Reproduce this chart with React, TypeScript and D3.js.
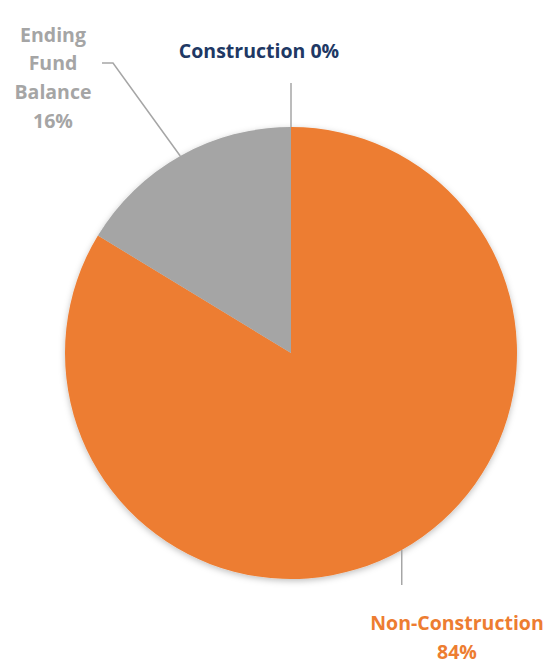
import React from "react";
import * as d3 from "d3";

const categories = ["Construction", "Non-Construction", "Ending Fund Balance"];
const values = [0, 83.7, 16.3];
const percentLabels = ["0%", "84%", "16%"];
const colors = ["#203864", "#ED7D31", "#A5A5A5"];

const W = 555;
const H = 664;
const cx = 291;
const cy = 353;
const R = 226;

export default function App() {
  const pie = d3.pie<number>().sort(null).value((d) => d);
  const arcs = pie(values);
  const arcGen = d3.arc<d3.PieArcDatum<number>>().innerRadius(0).outerRadius(R);
  const pt = (a: number, r: number) => [Math.sin(a) * r, -Math.cos(a) * r];
  const mid = (d: d3.PieArcDatum<number>) => (d.startAngle + d.endAngle) / 2;

  const cMid = pt(mid(arcs[0]), R);
  const nMid = pt(mid(arcs[1]), R);
  const eMid = pt(mid(arcs[2]), R);

  const font = "'Open Sans', 'Noto Sans', sans-serif";

  return (
    <svg width={W} height={H} style={{ position: "absolute", left: 0, top: 0 }}>
      <defs>
        <filter id="sh" x="-10%" y="-10%" width="120%" height="120%">
          <feDropShadow dx="0" dy="2" stdDeviation="3" floodColor="#000" floodOpacity="0.25" />
        </filter>
      </defs>
      <g transform={`translate(${cx},${cy})`} filter="url(#sh)">
        {arcs.map((d, i) => (
          <path key={categories[i]} d={arcGen(d) || ""} fill={colors[i]} />
        ))}
      </g>
      <g transform={`translate(${cx},${cy})`} stroke="#A6A6A6" strokeWidth={1.5} fill="none">
        <polyline points={`${cMid[0]},${cMid[1]} ${cMid[0]},${83 - cy}`} />
        <polyline points={`${eMid[0]},${eMid[1]} ${113 - cx},${63 - cy} ${102 - cx},${63 - cy}`} />
        <polyline points={`${nMid[0]},${nMid[1]} ${nMid[0]},${585 - cy}`} />
      </g>
      <g fontFamily={font} fontWeight={700} fontSize={19.5} textAnchor="middle">
        <text x={259} y={58} fill={colors[0]}>
          {categories[0]} {percentLabels[0]}
        </text>
        <text fill={colors[2]}>
          <tspan x={53} y={42}>Ending</tspan>
          <tspan x={53} y={70}>Fund</tspan>
          <tspan x={53} y={99}>Balance</tspan>
          <tspan x={53} y={128}>{percentLabels[2]}</tspan>
        </text>
        <text fill={colors[1]}>
          <tspan x={457} y={630}>{categories[1]}</tspan>
          <tspan x={457} y={659}>{percentLabels[1]}</tspan>
        </text>
      </g>
    </svg>
  );
}
